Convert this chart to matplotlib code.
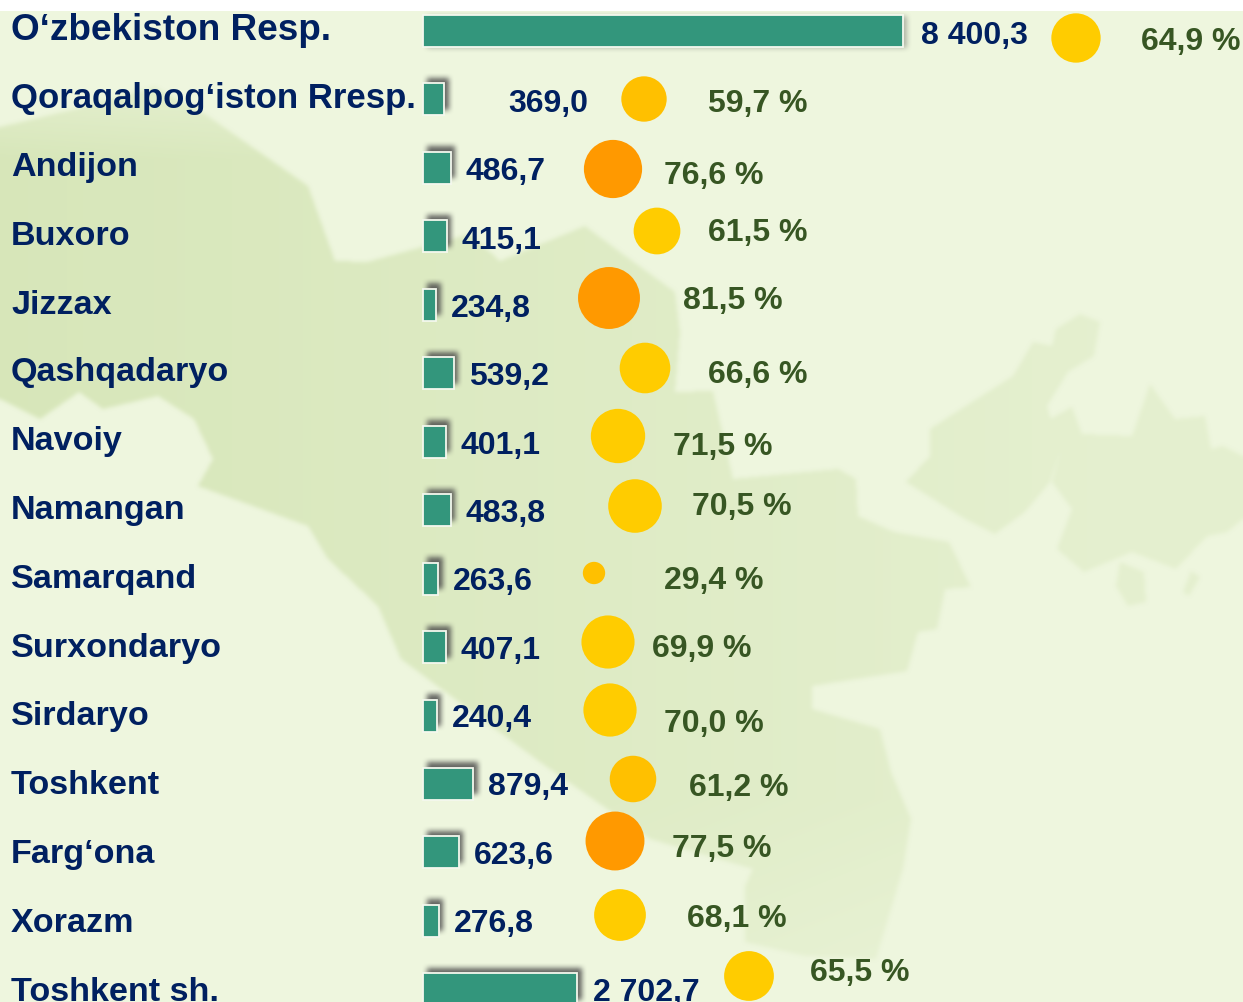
"""
Regions of Uzbekistan: value bars and percent circles on a faint map
"""

import numpy as np
import matplotlib
matplotlib.use("Agg")
from matplotlib import pyplot as plt
from matplotlib.path import Path
from matplotlib.patches import Rectangle

regions = ["O‘zbekiston Resp.", "Qoraqalpog‘iston Rresp.", "Andijon", "Buxoro", "Jizzax",
           "Qashqadaryo", "Navoiy", "Namangan", "Samarqand", "Surxondaryo", "Sirdaryo",
           "Toshkent", "Farg‘ona", "Xorazm", "Toshkent sh."]
values = [8400.3, 369.0, 486.7, 415.1, 234.8, 539.2, 401.1, 483.8, 263.6, 407.1, 240.4,
          879.4, 623.6, 276.8, 2702.7]
percents = [64.9, 59.7, 76.6, 61.5, 81.5, 66.6, 71.5, 70.5, 29.4, 69.9, 70.0, 61.2, 77.5,
            68.1, 65.5]

# layout in pixels of the picture, labels and circles are placed by hand in the original
W, H = 1243, 1003
name_base = [40, 108, 176, 245, 314, 381, 450, 519, 588, 657, 725, 794, 863, 932, 1001]
name_size = [26.6, 25] + [24.6] * 13
value_x = [921, 508, 466, 462, 451, 469, 461, 466, 453, 461, 452, 488, 474, 454, 593]
value_base = [44, 112, 180, 249, 317, 385, 454, 522, 590, 659, 727, 795, 864, 932, 1001]
circle_x = [1076, 644, 613, 657, 609, 645, 618, 635, 594, 608, 610, 633, 615, 620, 749]
circle_y = [39, 100, 170, 232, 299, 369, 437, 507, 574, 643, 711, 780, 842, 916, 977]
circle_col = ["#FFCC00", "#FFC000", "#FF9900", "#FFCC00", "#FF9900", "#FFCC00", "#FFCC00",
              "#FFCC00", "#FFC000", "#FFCC00", "#FFCC00", "#FFC000", "#FF9900", "#FFCC00",
              "#FFCC00"]
pct_x = [1141, 708, 664, 708, 683, 708, 673, 692, 664, 652, 664, 689, 672, 687, 810]
pct_base = [50, 112, 184, 241, 309, 383, 455, 515, 589, 657, 732, 796, 857, 927, 981]

# background map outline, rough trace
map_west = [(0, 128), (75, 110), (155, 88), (205, 115), (308, 187), (335, 262), (367, 263),
            (470, 235), (500, 262), (585, 227), (620, 253), (675, 293), (680, 333), (675, 393),
            (713, 392), (733, 480), (838, 470), (856, 480), (858, 517), (894, 533), (949, 543),
            (971, 588), (945, 590), (937, 630), (918, 633), (907, 672), (812, 687), (812, 710),
            (880, 730), (891, 773), (911, 820), (903, 870), (876, 960), (805, 957), (745, 943),
            (745, 887), (753, 870), (650, 840), (540, 763), (401, 660), (378, 607), (328, 560),
            (308, 527), (198, 487), (213, 460), (194, 420), (158, 397), (103, 410), (79, 393),
            (40, 420), (0, 400)]
map_east1 = [(1100, 323), (1080, 315), (1056, 330), (1052, 347), (1033, 343), (1013, 377),
             (961, 410), (930, 430), (930, 457), (906, 483), (965, 520), (995, 535), (1025, 513),
             (1050, 483), (1060, 453), (1047, 407), (1068, 373), (1094, 357)]
map_east2 = [(1050, 420), (1072, 408), (1082, 435), (1132, 437), (1150, 385), (1175, 420),
             (1205, 417), (1211, 450), (1223, 447), (1243, 457), (1243, 520), (1227, 533),
             (1207, 537), (1176, 570), (1132, 553), (1084, 573), (1057, 550), (1072, 510),
             (1052, 483), (1060, 453)]
map_east3 = [(1120, 563), (1144, 573), (1146, 603), (1128, 607), (1116, 587)]
map_east4 = [(1191, 572), (1200, 578), (1189, 597), (1183, 593)]


def box_blur(arr, size, passes=2):
    kernel = np.ones(size) / size
    for _ in range(passes):
        arr = np.apply_along_axis(lambda r: np.convolve(r, kernel, mode="same"), 0, arr)
        arr = np.apply_along_axis(lambda r: np.convolve(r, kernel, mode="same"), 1, arr)
    return arr


def map_layer():
    # soft edged map, darker in the west and paler to the south and east
    xx, yy = np.meshgrid(np.arange(W) + 0.5, np.arange(H) + 0.5)
    pts = np.column_stack([xx.ravel(), yy.ravel()])
    mask = np.zeros(H * W)
    for part in [map_west, map_east1, map_east2, map_east3, map_east4]:
        mask = np.maximum(mask, Path(part + [part[0]]).contains_points(pts))
    pad = 12
    mask = np.pad(mask.reshape(H, W), pad, mode="edge")
    mask = box_blur(mask, 5)[pad:-pad, pad:-pad]
    fade = 0.92 - 0.55 * np.clip(xx / 1100, 0, 1) - 0.25 * np.clip((yy - 800) / 200, 0, 1)
    fade = fade * (0.55 + 0.45 * np.clip((yy - 100) / 60, 0, 1))
    rgba = np.zeros((H, W, 4))
    rgba[..., :3] = np.array([0xD5, 0xE5, 0xB6]) / 255
    rgba[..., 3] = mask * fade
    return rgba


plt.rcParams["font.family"] = ["Liberation Sans", "DejaVu Sans"]
plt.rcParams["font.weight"] = "bold"

fig = plt.figure(figsize=(W / 100, H / 100), dpi=100, facecolor="#EEF6DE")

# pixel axes for map and shadows
ax_bg = fig.add_axes([0, 0, 1, 1], zorder=0)
ax_bg.imshow(map_layer(), extent=(0, W, H, 0), aspect="auto", zorder=1)

# bars on their own value scale, row index on y
k = 480 / 8400.3
row_h = 68.45
ax_bar = fig.add_axes([0, 0, 1, 1], zorder=1)
ax_bar.set_xlim(-423 / k, (W - 423) / k)
ax_bar.set_ylim((H - 32) / row_h, -32 / row_h)
ax_bar.axis("off")
rows = np.arange(len(regions))
bars = ax_bar.barh(rows, values, height=32 / row_h, color="#33967C", edgecolor="#F4F8EE",
                   linewidth=1.3, zorder=3)

# blurred shadow sits above and to the right of each bar
shadow = np.zeros((H, W))
for i, bar in enumerate(bars):
    x0, y_a = ax_bar.transData.transform((bar.get_x(), bar.get_y()))
    x1, y_b = ax_bar.transData.transform((bar.get_x() + bar.get_width(), bar.get_y() + bar.get_height()))
    top = int(H - max(y_a, y_b))
    bottom = int(H - min(y_a, y_b))
    # the strip at the top of the image leaves only a pale sliver of the first shadow
    weight = 0.45 if i == 0 else 1
    dy = 0 if i == 0 else 6
    shadow[max(top - dy, 0):bottom - dy, int(x0) + 4:int(x1) + 4] = weight
shadow = box_blur(shadow, 6)
rgba = np.zeros((H, W, 4))
rgba[..., :3] = 0.3
rgba[..., 3] = shadow * 0.85
ax_bg.imshow(rgba, extent=(0, W, H, 0), aspect="auto", zorder=2)
ax_bg.set_xlim(0, W)
ax_bg.set_ylim(H, 0)
ax_bg.axis("off")

# circles and texts on top in pixel coordinates
ax_top = fig.add_axes([0, 0, 1, 1], zorder=2)
ax_top.set_xlim(0, W)
ax_top.set_ylim(H, 0)
ax_top.axis("off")
sizes = [(p * 0.76 * 0.72) ** 2 for p in percents]
ax_top.scatter(circle_x, circle_y, s=sizes, c=circle_col, linewidths=0, zorder=3)

for i, name in enumerate(regions):
    ax_top.text(11, name_base[i], name, color="#002060", fontsize=name_size[i], va="baseline", ha="left")
    label = f"{values[i]:,.1f}".replace(",", " ").replace(".", ",")
    ax_top.text(value_x[i], value_base[i], label, color="#002060", fontsize=23, va="baseline", ha="left")
    pct = f"{percents[i]:.1f} %".replace(".", ",")
    ax_top.text(pct_x[i], pct_base[i], pct, color="#375623", fontsize=23, va="baseline", ha="left")

# white strip at the top cuts the first label like in the source image
ax_top.add_patch(Rectangle((0, 0), W, 12, fc="white", ec="none", zorder=5))

fig.savefig("out.png", dpi=100, facecolor=fig.get_facecolor())
